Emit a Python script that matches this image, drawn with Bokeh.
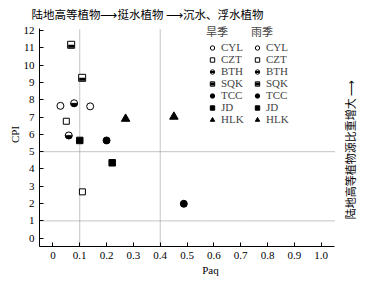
import numpy as np
from bokeh.plotting import figure
from bokeh.models import (ColumnDataSource, Label, Legend, LegendItem,
                          FixedTicker, Range1d, Title)
from bokeh.transform import dodge
from bokeh.embed import file_html
from bokeh.resources import INLINE

# ---------------- data ----------------
sites = ["CYL", "CZT", "BTH", "SQK", "TCC", "JD", "HLK"]
seasons = ["旱季", "雨季"]
paq_dry = [0.028, 0.050, 0.059, 0.068, 0.200, 0.100, 0.271]
cpi_dry = [7.65, 6.76, 5.94, 11.18, 5.65, 5.65, 6.90]
paq_wet = [0.139, 0.110, 0.079, 0.109, 0.488, 0.221, 0.451]
cpi_wet = [7.62, 2.68, 7.80, 9.27, 1.99, 4.36, 7.02]
x_ticks = [0, 0.1, 0.2, 0.3, 0.4, 0.5, 0.6, 0.7, 0.8, 0.9, 1.0]
x_tick_labels = ["0", "0.1", "0.2", "0.3", "0.4", "0.5", "0.6", "0.7", "0.8", "0.9", "1.0"]
y_ticks = [0, 1, 2, 3, 4, 5, 6, 7, 8, 9, 10, 11, 12]
ref_paq = [0.1, 0.4]
ref_cpi = [1, 5]
top_text = "陆地高等植物⟶挺水植物 ⟶沉水、浮水植物"
right_text = "陆地高等植物源比重增大 ⟶"

SERIF = "Liberation Serif"
CJK = "Noto Sans CJK SC"

# axis extents (the frame is a little larger so that side notes are not clipped)
X_AX = (-0.05, 1.05)
Y_AX = (-0.48, 12.12)

p = figure(width=381, height=281,
           x_range=Range1d(X_AX[0], 1.225), y_range=Range1d(Y_AX[0], 12.468),
           output_backend="svg", toolbar_location=None,
           min_border_left=39, min_border_right=0,
           min_border_top=22, min_border_bottom=35)
p.outline_line_color = None
p.grid.visible = False
p.background_fill_color = "white"

# dotted reference lines
p.segment(x0=ref_paq, x1=ref_paq, y0=[Y_AX[0]] * len(ref_paq), y1=[Y_AX[1]] * len(ref_paq),
          line_color="#888888", line_width=1, line_dash="1 1")
p.segment(x0=[X_AX[0]] * len(ref_cpi), x1=[X_AX[1]] * len(ref_cpi), y0=ref_cpi, y1=ref_cpi,
          line_color="#888888", line_width=1, line_dash="1 1")

PXY = 1.0 / 17.3  # data units per screen pixel on y


def draw_site(site, src):
    if site == "CYL":
        r = p.scatter("x", "y", source=src, marker="circle", size=7,
                      fill_color="white", line_color="black", line_width=1)
        return [r]
    if site == "CZT":
        r = p.scatter("x", "y", source=src, marker="square", size=6,
                      fill_color="white", line_color="black", line_width=1)
        return [r]
    if site == "BTH":
        o = p.scatter("x", "y", source=src, marker="circle", size=7,
                      fill_color="white", line_color="black", line_width=1)
        p.wedge("x", "y", source=src, radius=3.5, radius_units="screen",
                start_angle=np.pi, end_angle=2 * np.pi, fill_color="black",
                line_color="black", line_width=0.5)
        d = p.scatter("x", dodge("y", -1.0 * PXY, range=p.y_range), source=src,
                      marker="dash", size=4.5, line_width=2, line_color="black")
        return [o, d]
    if site == "SQK":
        o = p.scatter("x", "y", source=src, marker="square", size=7,
                      fill_color="white", line_color="black", line_width=1)
        d = p.scatter("x", dodge("y", -1.5 * PXY, range=p.y_range), source=src,
                      marker="dash", size=6, line_width=3, line_color="black")
        return [o, d]
    if site == "TCC":
        r = p.scatter("x", "y", source=src, marker="circle", size=7,
                      fill_color="black", line_color="black")
        return [r]
    if site == "JD":
        r = p.scatter("x", "y", source=src, marker="square", size=6.5,
                      fill_color="black", line_color="black")
        return [r]
    r = p.scatter("x", "y", source=src, marker="triangle", size=8.5,
                  fill_color="black", line_color="black")
    return [r]


for season, paq, cpi, loc in [(seasons[0], paq_dry, cpi_dry, (167, 121)),
                              (seasons[1], paq_wet, cpi_wet, (212, 121))]:
    items = []
    for i, site in enumerate(sites):
        src = ColumnDataSource(dict(x=[paq[i]], y=[cpi[i]]))
        leg_rs = draw_site(site, src)
        items.append(LegendItem(label=site, renderers=leg_rs))
    leg = Legend(items=items, title=season, location=loc,
                 glyph_width=12, glyph_height=11, label_height=11, spacing=0,
                 padding=0, margin=0, label_standoff=3,
                 label_text_font=SERIF, label_text_font_size="11px",
                 title_text_font=CJK, title_text_font_size="11px",
                 title_text_font_style="normal", title_standoff=2,
                 border_line_color=None, background_fill_alpha=0)
    p.add_layout(leg)

# axes
p.xaxis.ticker = FixedTicker(ticks=x_ticks)
p.xaxis.major_label_overrides = dict(zip(x_ticks, x_tick_labels))
p.yaxis.ticker = FixedTicker(ticks=y_ticks)
p.xaxis.bounds = X_AX
p.yaxis.bounds = Y_AX
for ax in (p.xaxis[0], p.yaxis[0]):
    ax.major_tick_in = 4
    ax.major_tick_out = 0
    ax.minor_tick_line_color = None
    ax.axis_line_color = "black"
    ax.major_tick_line_color = "black"
    ax.major_label_text_font = SERIF
    ax.major_label_text_font_size = "11px"
    ax.major_label_text_color = "black"
    ax.major_label_standoff = 5
    ax.axis_label_text_font = SERIF
    ax.axis_label_text_font_size = "11px"
    ax.axis_label_text_font_style = "normal"
    ax.axis_label_text_color = "black"
p.xaxis.axis_label = "Paq"
p.yaxis.axis_label = "CPI"
p.xaxis.axis_label_standoff = 2
p.yaxis.axis_label_standoff = 0

title = Title(text=top_text, align="left", offset=-8, text_font=CJK,
              text_font_size="11.5px", text_font_style="normal", text_color="black",
              standoff=2)
p.add_layout(title, "above")

# right-hand note, reading upwards
p.add_layout(Label(x=310, y=97, x_units="screen", y_units="screen",
                   text=right_text, angle=90, angle_units="deg",
                   text_align="center", text_baseline="middle",
                   text_font=CJK, text_font_size="11px", text_color="black"))

open("out.html", "w").write(file_html(p, INLINE))
